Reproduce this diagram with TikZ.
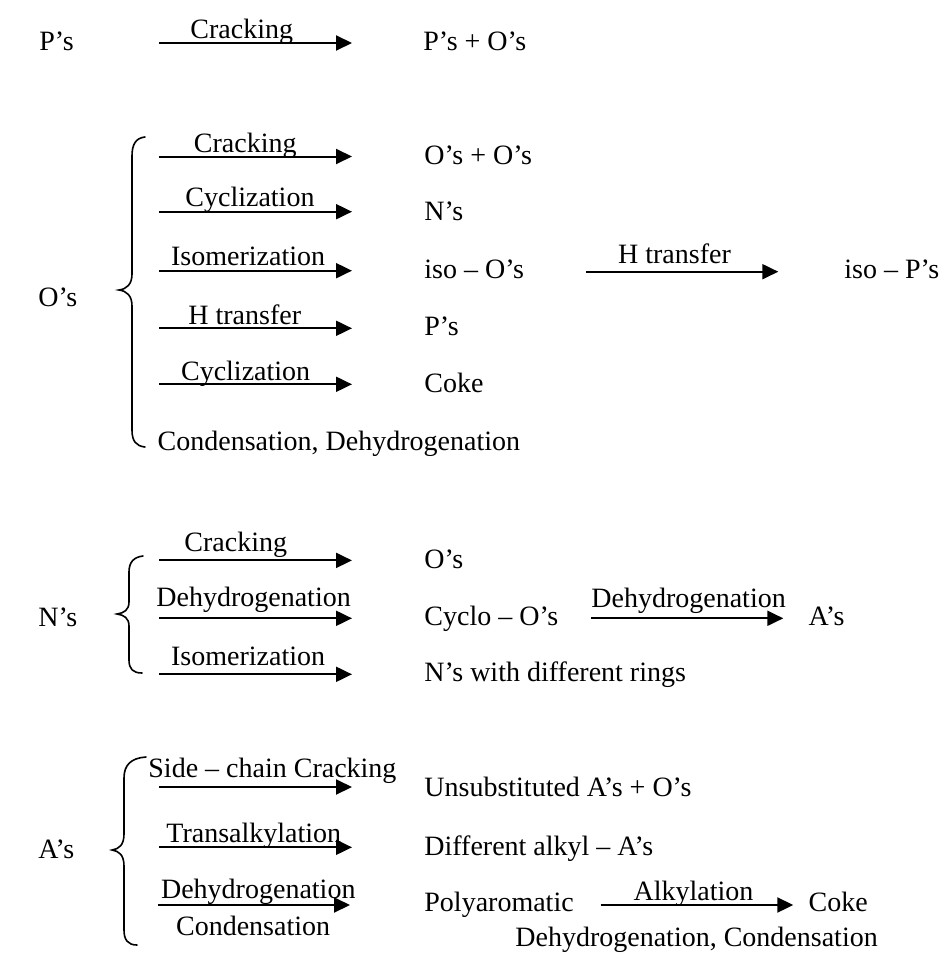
\documentclass[tikz,border=0pt]{standalone}
\usepackage{fontspec}
\setmainfont{Liberation Serif}
\usetikzlibrary{arrows.meta}
\begin{document}
\begin{tikzpicture}[x=0.5pt,y=-0.5pt,
  txt/.style={anchor=base west,inner sep=0pt,font=\fontsize{14}{17}\selectfont},
  rx/.style={line width=1pt,-{Triangle[length=8pt,width=7.5pt]}},
  brace/.style={line width=0.8pt,line cap=round}]
\useasboundingbox (0,0) rectangle (941,953);

% ---------- P's ----------
\node[txt] (p) at (39,50) {P’s};
\coordinate (p1s) at (159,43); \coordinate (p1e) at (352,43);
\draw[rx] (p1s) -- (p1e);
\node[txt] (pl1) at (190,39) {Cracking};
\node[txt] (pp1) at (423,50) {P’s + O’s};

% ---------- O's ----------
\node[txt] (o) at (38,306) {O’s};
\draw[brace] (145,137) .. controls (136,138) and (132,144) .. (132,156) -- (132,274)
  .. controls (132,284) and (127,289) .. (119,290)
  .. controls (127,291) and (132,296) .. (132,306) -- (132,430)
  .. controls (132,441) and (136,446) .. (145,447);
\coordinate (o1s) at (159,156.5); \coordinate (o1e) at (352,156.5);
\coordinate (o2s) at (159,211.7); \coordinate (o2e) at (352,211.7);
\coordinate (o3s) at (159,270.7); \coordinate (o3e) at (352,270.7);
\coordinate (o4s) at (159,328.3); \coordinate (o4e) at (352,328.3);
\coordinate (o5s) at (159,384.3); \coordinate (o5e) at (352,384.3);
\foreach \i in {1,...,5} {\draw[rx] (o\i s) -- (o\i e);}
\node[txt] (ol1) at (193.5,152) {Cracking};
\node[txt] (ol2) at (185,206.7) {Cyclization};
\node[txt] (ol3) at (170.7,265.7) {Isomerization};
\node[txt] (ol4) at (188,324.3) {H transfer};
\node[txt] (ol5) at (180.7,380) {Cyclization};
\node[txt] (op1) at (424,164.5) {O’s + O’s};
\node[txt] (op2) at (424,220.7) {N’s};
\node[txt] (op3) at (424,278) {iso – O’s};
\node[txt] (op4) at (424,335) {P’s};
\node[txt] (op5) at (424,392.3) {Coke};
\node[txt] (ocd) at (157.3,450) {Condensation, Dehydrogenation};
\coordinate (o6s) at (586,271.7); \coordinate (o6e) at (778.3,271.7);
\draw[rx] (o6s) -- (o6e);
\node[txt] (ol6) at (617.7,263.3) {H transfer};
\node[txt] (op6) at (844,278.3) {iso – P’s};

% ---------- N's ----------
\node[txt] (n) at (38,626) {N’s};
\draw[brace] (143,556) .. controls (134,557) and (129,562) .. (129,572) -- (129,602)
  .. controls (129,610) and (124,613) .. (117,614)
  .. controls (124,615) and (129,618) .. (129,626) -- (129,660)
  .. controls (129,669) and (133,673) .. (142,673);
\coordinate (n1s) at (159,560.4); \coordinate (n1e) at (352,560.4);
\coordinate (n2s) at (159,618.3); \coordinate (n2e) at (352,618.3);
\coordinate (n3s) at (159,674.3); \coordinate (n3e) at (352,674.3);
\foreach \i in {1,2,3} {\draw[rx] (n\i s) -- (n\i e);}
\node[txt] (nl1) at (184,551.4) {Cracking};
\node[txt] (nl2) at (156,606.7) {Dehydrogenation};
\node[txt] (nl3) at (170.7,665) {Isomerization};
\node[txt] (np1) at (424,568) {O’s};
\node[txt] (np2) at (424,625) {Cyclo – O’s};
\node[txt] (np3) at (424,681.7) {N’s with different rings};
\coordinate (n4s) at (591,618.3); \coordinate (n4e) at (783.3,618.3);
\draw[rx] (n4s) -- (n4e);
\node[txt] (nl4) at (591,607) {Dehydrogenation};
\node[txt] (np4) at (808.3,625) {A’s};

% ---------- A's ----------
\node[txt] (a) at (38,858) {A’s};
\draw[brace] (146,757) .. controls (131,758) and (124,765) .. (124,778) -- (124,834)
  .. controls (124,845) and (119,849) .. (112,850)
  .. controls (119,851) and (124,855) .. (124,866) -- (124,930)
  .. controls (124,940) and (128,945) .. (137,945);
\coordinate (a1s) at (159,787); \coordinate (a1e) at (352,787);
\coordinate (a2s) at (159,847.3); \coordinate (a2e) at (352,847.3);
\coordinate (a3s) at (158.3,905); \coordinate (a3e) at (350,905);
\foreach \i in {1,2,3} {\draw[rx] (a\i s) -- (a\i e);}
\node[txt] (al1) at (148,777) {Side – chain Cracking};
\node[txt] (al2) at (166,842.7) {Transalkylation};
\node[txt] (al3) at (160.7,898.3) {Dehydrogenation};
\node[txt] (al3b) at (175.7,935) {Condensation};
\node[txt] (ap1) at (424,796.7) {Unsubstituted A’s + O’s};
\node[txt] (ap2) at (424,855) {Different alkyl – A’s};
\node[txt] (ap3) at (424,911.7) {Polyaromatic};
\coordinate (a4s) at (600.7,905); \coordinate (a4e) at (793.3,905);
\draw[rx] (a4s) -- (a4e);
\node[txt] (al4) at (633.3,900) {Alkylation};
\node[txt] (ap4) at (808.3,911.7) {Coke};
\node[txt] (al4b) at (515,946.7) {Dehydrogenation, Condensation};
\end{tikzpicture}
\end{document}
